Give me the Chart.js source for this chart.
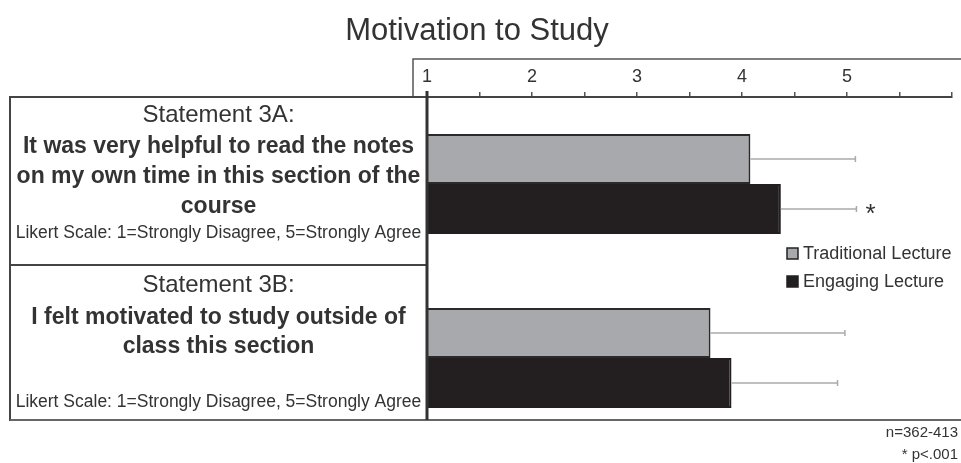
<!DOCTYPE html>
<html>
<head>
<script src="https://cdn.jsdelivr.net/npm/chart.js@4.4.0/dist/chart.umd.min.js"></script>
<style>
  body { margin: 0; background: #fff; }
  #wrap { width: 961px; height: 463px; position: relative; }
</style>
</head>
<body>
<div id="wrap"><canvas id="barChart"></canvas></div>
<script>
// data
var categories = ['Statement 3A', 'Statement 3B'];
var seriesNames = ['Traditional Lecture', 'Engaging Lecture'];
var traditional = [4.08, 3.70];
var engaging = [4.37, 3.90];
var traditionalErr = [1.00, 1.28];
var engagingErr = [0.72, 1.01];
var significance = ['*', ''];
var tickLabels = ['1', '2', '3', '4', '5'];
var statementHeads = ['Statement 3A:', 'Statement 3B:'];
var statementBodies = [
  ['It was very helpful to read the notes', 'on my own time in this section of the', 'course'],
  ['I felt motivated to study outside of', 'class this section']
];
var scaleNote = 'Likert Scale: 1=Strongly Disagree, 5=Strongly Agree';
var footnotes = ['n=362-413', '* p<.001'];

var FONT = "'Liberation Sans', Arial, sans-serif";
var TEXT = '#333333';
var errors = [traditionalErr, engagingErr];

// left label boxes: [top, bottom], and y of each text line relative to box top
var boxes = [[97, 265], [265, 420]];
var headY = [18, 20];
var bodyY = [[50, 80, 110], [53, 82]];
var noteY = [136, 137];

var decor = {
  id: 'decor',
  afterDatasetsDraw: function (chart) {
    var ctx = chart.ctx, xs = chart.scales.x;
    ctx.save();
    // error bars
    ctx.strokeStyle = '#aaaaaa';
    ctx.lineWidth = 1.5;
    chart.data.datasets.forEach(function (ds, i) {
      var meta = chart.getDatasetMeta(i);
      meta.data.forEach(function (bar, j) {
        var x0 = bar.x, x1 = xs.getPixelForValue(ds.data[j] + errors[i][j]);
        ctx.beginPath();
        ctx.moveTo(x0, bar.y); ctx.lineTo(x1, bar.y);
        ctx.moveTo(x1, bar.y - 3); ctx.lineTo(x1, bar.y + 3);
        ctx.stroke();
        if (i === 1 && significance[j]) {
          ctx.fillStyle = TEXT;
          ctx.font = '26px ' + FONT;
          ctx.textAlign = 'left';
          ctx.textBaseline = 'middle';
          ctx.fillText(significance[j], x1 + 9, bar.y + 6);
        }
      });
    });
    ctx.restore();
  },
  afterDraw: function (chart) {
    var ctx = chart.ctx, a = chart.chartArea;
    ctx.save();
    ctx.fillStyle = TEXT;
    ctx.textAlign = 'center';
    ctx.textBaseline = 'middle';
    ctx.font = '31px ' + FONT;
    ctx.fillText('Motivation to Study', 477, 31);

    // box round the tick labels
    ctx.strokeStyle = '#555';
    ctx.lineWidth = 1.5;
    ctx.beginPath();
    ctx.moveTo(961, 59); ctx.lineTo(413, 59); ctx.lineTo(413, a.top);
    ctx.stroke();

    // statement boxes
    ctx.strokeStyle = '#444';
    ctx.lineWidth = 2;
    boxes.forEach(function (b, i) {
      ctx.strokeRect(10, b[0], a.left - 10, b[1] - b[0]);
      var cx = (10 + a.left) / 2;
      ctx.font = '24px ' + FONT;
      ctx.fillText(statementHeads[i], cx, b[0] + headY[i]);
      ctx.font = 'bold 23px ' + FONT;
      statementBodies[i].forEach(function (line, k) {
        ctx.fillText(line, cx, b[0] + bodyY[i][k]);
      });
      ctx.font = '17.5px ' + FONT;
      ctx.fillText(scaleNote, cx, b[0] + noteY[i]);
    });

    // bottom line and vertical axis
    ctx.strokeStyle = '#666';
    ctx.lineWidth = 2;
    ctx.beginPath();
    ctx.moveTo(10, 420); ctx.lineTo(961, 420);
    ctx.stroke();
    ctx.strokeStyle = '#333';
    ctx.lineWidth = 3;
    ctx.beginPath();
    ctx.moveTo(a.left, a.top - 6); ctx.lineTo(a.left, 420);
    ctx.stroke();

    // legend
    ctx.font = '18px ' + FONT;
    ctx.textAlign = 'left';
    chart.data.datasets.forEach(function (ds, i) {
      var y = 253 + i * 28;
      ctx.fillStyle = ds.backgroundColor;
      ctx.fillRect(787, y - 5, 11, 11);
      ctx.strokeStyle = '#222';
      ctx.lineWidth = 1.5;
      ctx.strokeRect(787, y - 5, 11, 11);
      ctx.fillStyle = TEXT;
      ctx.fillText(ds.label, 803, y + 1);
    });

    // footnotes
    ctx.font = '15px ' + FONT;
    ctx.textAlign = 'right';
    footnotes.forEach(function (t, i) {
      ctx.fillText(t, 958, 433 + i * 22);
    });
    ctx.restore();
  }
};

new Chart(document.getElementById('barChart'), {
  type: 'bar',
  data: {
    labels: categories,
    datasets: [
      { label: seriesNames[0], data: traditional, backgroundColor: '#a7a9ac', borderColor: '#2a2a2a', borderWidth: 2, borderSkipped: false },
      { label: seriesNames[1], data: engaging, backgroundColor: '#231f20', borderColor: '#231f20', borderWidth: 2, borderSkipped: false }
    ]
  },
  options: {
    indexAxis: 'y',
    responsive: true,
    maintainAspectRatio: false,
    animation: false,
    categoryPercentage: 0.575,
    barPercentage: 1,
    layout: { padding: { left: 427, right: 9, top: 59, bottom: 18 } },
    plugins: { legend: { display: false }, tooltip: { enabled: false }, title: { display: false } },
    scales: {
      x: {
        position: 'top',
        min: 1,
        max: 6,
        afterFit: function (s) { s.height = 38; },
        ticks: {
          stepSize: 0.5,
          autoSkip: false,
          maxRotation: 0,
          padding: 4,
          color: TEXT,
          font: { family: FONT, size: 18 },
          callback: function (v) {
            var s = String(v);
            return tickLabels.indexOf(s) >= 0 ? s : '';
          }
        },
        grid: { drawOnChartArea: false, drawTicks: true, tickLength: 5, tickColor: '#555', lineWidth: 1.5 },
        border: { display: true, color: '#444', width: 2 }
      },
      y: { display: false }
    }
  },
  plugins: [decor]
});
</script>
</body>
</html>
